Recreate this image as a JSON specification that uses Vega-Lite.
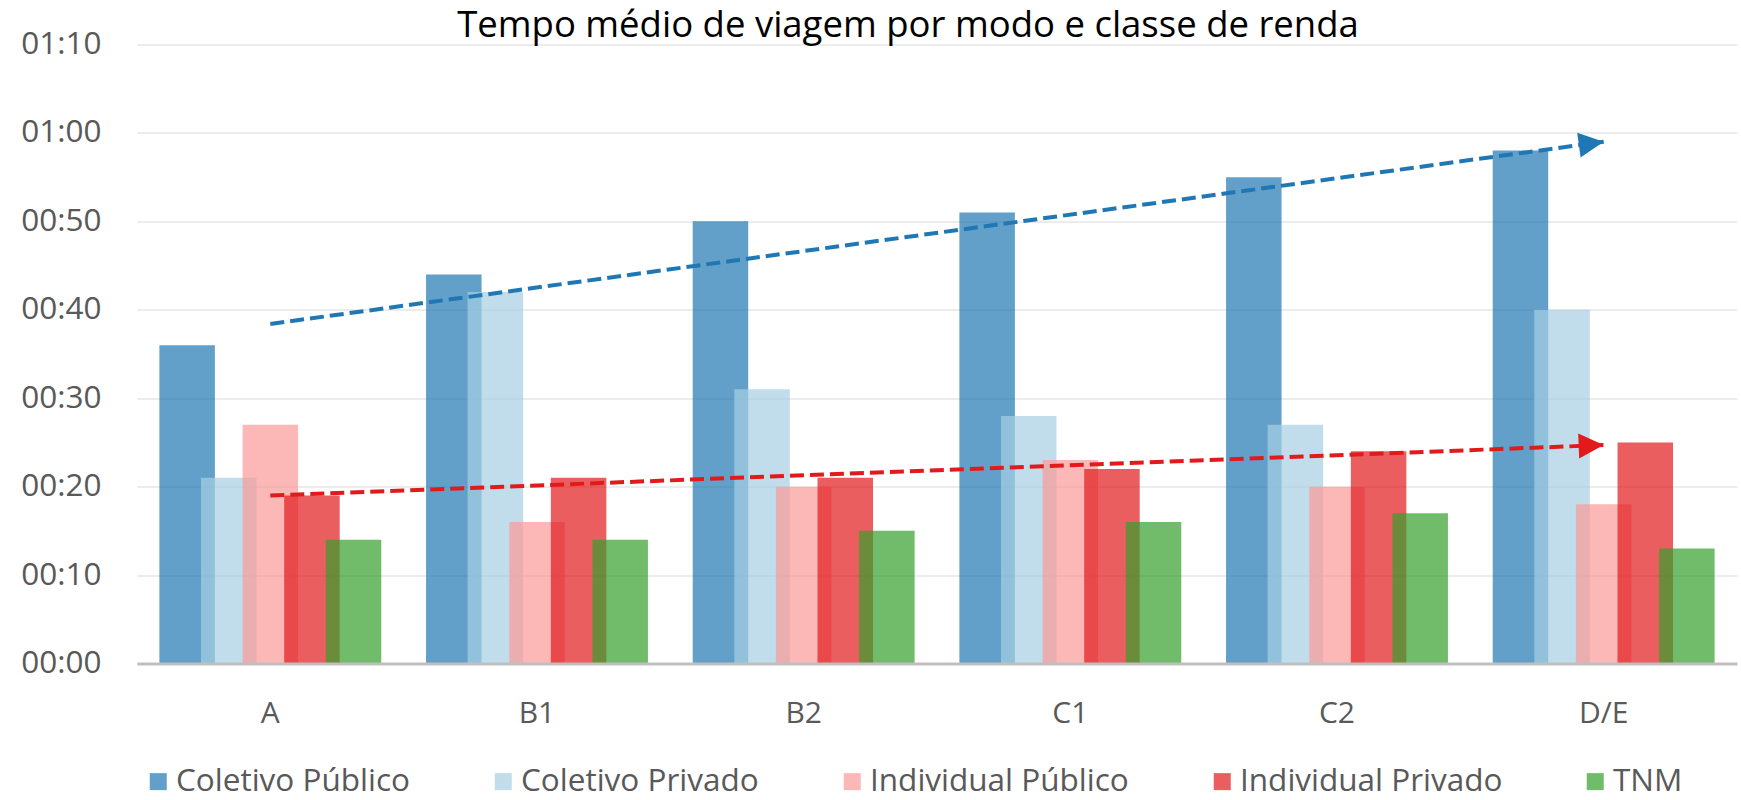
{
  "$schema": "https://vega.github.io/schema/vega-lite/v6.json",
  "width": 1600,
  "height": 619,
  "autosize": {"type": "none"},
  "padding": {"left": 137, "top": 44.5, "right": 4, "bottom": 136.5},
  "background": "white",
  "config": {"font": "Open Sans", "view": {"stroke": null}},
  "title": {
    "text": "Tempo médio de viagem por modo e classe de renda",
    "fontSize": 36.5,
    "fontWeight": "normal",
    "color": "#000000",
    "font": "Open Sans",
    "anchor": "middle",
    "frame": "group",
    "baseline": "alphabetic",
    "offset": -44.5,
    "dx": -29
  },
  "datasets": {
    "bars": [
      {"classe": "A", "modo": "Coletivo Público", "min": 36},
      {"classe": "A", "modo": "Coletivo Privado", "min": 21},
      {"classe": "A", "modo": "Individual Público", "min": 27},
      {"classe": "A", "modo": "Individual Privado", "min": 19},
      {"classe": "A", "modo": "TNM", "min": 14},
      {"classe": "B1", "modo": "Coletivo Público", "min": 44},
      {"classe": "B1", "modo": "Coletivo Privado", "min": 42},
      {"classe": "B1", "modo": "Individual Público", "min": 16},
      {"classe": "B1", "modo": "Individual Privado", "min": 21},
      {"classe": "B1", "modo": "TNM", "min": 14},
      {"classe": "B2", "modo": "Coletivo Público", "min": 50},
      {"classe": "B2", "modo": "Coletivo Privado", "min": 31},
      {"classe": "B2", "modo": "Individual Público", "min": 20},
      {"classe": "B2", "modo": "Individual Privado", "min": 21},
      {"classe": "B2", "modo": "TNM", "min": 15},
      {"classe": "C1", "modo": "Coletivo Público", "min": 51},
      {"classe": "C1", "modo": "Coletivo Privado", "min": 28},
      {"classe": "C1", "modo": "Individual Público", "min": 23},
      {"classe": "C1", "modo": "Individual Privado", "min": 22},
      {"classe": "C1", "modo": "TNM", "min": 16},
      {"classe": "C2", "modo": "Coletivo Público", "min": 55},
      {"classe": "C2", "modo": "Coletivo Privado", "min": 27},
      {"classe": "C2", "modo": "Individual Público", "min": 20},
      {"classe": "C2", "modo": "Individual Privado", "min": 24},
      {"classe": "C2", "modo": "TNM", "min": 17},
      {"classe": "D/E", "modo": "Coletivo Público", "min": 58},
      {"classe": "D/E", "modo": "Coletivo Privado", "min": 40},
      {"classe": "D/E", "modo": "Individual Público", "min": 18},
      {"classe": "D/E", "modo": "Individual Privado", "min": 25},
      {"classe": "D/E", "modo": "TNM", "min": 13}
    ],
    "arrows": [
      {"serie": "azul", "classe": "A", "min": 38.4},
      {"serie": "azul", "classe": "D/E", "min": 59.0},
      {"serie": "vermelho", "classe": "A", "min": 19.0},
      {"serie": "vermelho", "classe": "D/E", "min": 24.7}
    ]
  },
  "encoding": {
    "x": {
      "field": "classe",
      "type": "nominal",
      "sort": ["A", "B1", "B2", "C1", "C2", "D/E"],
      "scale": {"paddingInner": 0, "paddingOuter": 0},
      "axis": {
        "title": null,
        "labelAngle": 0,
        "ticks": false,
        "grid": false,
        "domainColor": "#bfbfbf",
        "domainWidth": 3,
        "labelPadding": 35,
        "labelFontSize": 30,
        "labelColor": "#595959",
        "labelFont": "Open Sans",
        "zindex": 1
      }
    },
    "y": {
      "field": "min",
      "type": "quantitative",
      "scale": {"domain": [0, 70], "nice": false, "zero": true},
      "axis": {
        "title": null,
        "values": [0, 10, 20, 30, 40, 50, 60, 70],
        "labelExpr": "(floor(datum.value/60) < 10 ? '0' : '') + floor(datum.value/60) + ':' + ((datum.value % 60) < 10 ? '0' : '') + (datum.value % 60)",
        "domain": false,
        "ticks": false,
        "grid": true,
        "gridColor": "#ececec",
        "gridWidth": 2,
        "labelPadding": 36,
        "labelFontSize": 31.5,
        "labelColor": "#595959",
        "labelFont": "Open Sans"
      }
    }
  },
  "layer": [
    {
      "data": {"name": "bars"},
      "mark": {"type": "bar", "width": 55.5, "opacity": 0.7},
      "encoding": {
        "xOffset": {
          "field": "modo",
          "type": "nominal",
          "sort": ["Coletivo Público", "Coletivo Privado", "Individual Público", "Individual Privado", "TNM"],
          "scale": {"paddingInner": 0, "paddingOuter": 0.705}
        },
        "color": {
          "field": "modo",
          "type": "nominal",
          "scale": {
            "domain": ["Coletivo Público", "Coletivo Privado", "Individual Público", "Individual Privado", "TNM"],
            "range": ["#1f78b4", "#a6cee3", "#fb9a99", "#e31a1c", "#33a02c"]
          },
          "legend": {
            "orient": "none",
            "legendX": 5.5,
            "legendY": 721,
            "direction": "horizontal",
            "title": null,
            "symbolType": "square",
            "symbolSize": 289,
            "symbolStrokeWidth": 0,
            "symbolOpacity": 0.7,
            "labelFontSize": 31.5,
            "labelFont": "Open Sans",
            "labelColor": "#595959",
            "labelOffset": 2,
            "labelLimit": 400,
            "columnPadding": 77
          }
        }
      }
    },
    {
      "data": {"name": "arrows"},
      "transform": [{"filter": "datum.serie == 'azul'"}],
      "mark": {"type": "line", "color": "#1f78b4", "strokeWidth": 4, "strokeDash": [14, 6]},
      "encoding": {}
    },
    {
      "data": {"name": "arrows"},
      "transform": [{"filter": "datum.serie == 'vermelho'"}],
      "mark": {"type": "line", "color": "#e31a1c", "strokeWidth": 4, "strokeDash": [14, 6]},
      "encoding": {}
    },
    {
      "data": {"name": "arrows"},
      "transform": [{"filter": "datum.serie == 'azul' && datum.classe == 'D/E'"}],
      "mark": {"type": "point", "shape": "M-2,-1L0,0L-2,1Z", "size": 625, "filled": true, "opacity": 1, "color": "#1f78b4", "strokeWidth": 0, "angle": -7.8},
      "encoding": {}
    },
    {
      "data": {"name": "arrows"},
      "transform": [{"filter": "datum.serie == 'vermelho' && datum.classe == 'D/E'"}],
      "mark": {"type": "point", "shape": "M-2,-1L0,0L-2,1Z", "size": 625, "filled": true, "opacity": 1, "color": "#e31a1c", "strokeWidth": 0, "angle": -2.2},
      "encoding": {}
    }
  ]
}
